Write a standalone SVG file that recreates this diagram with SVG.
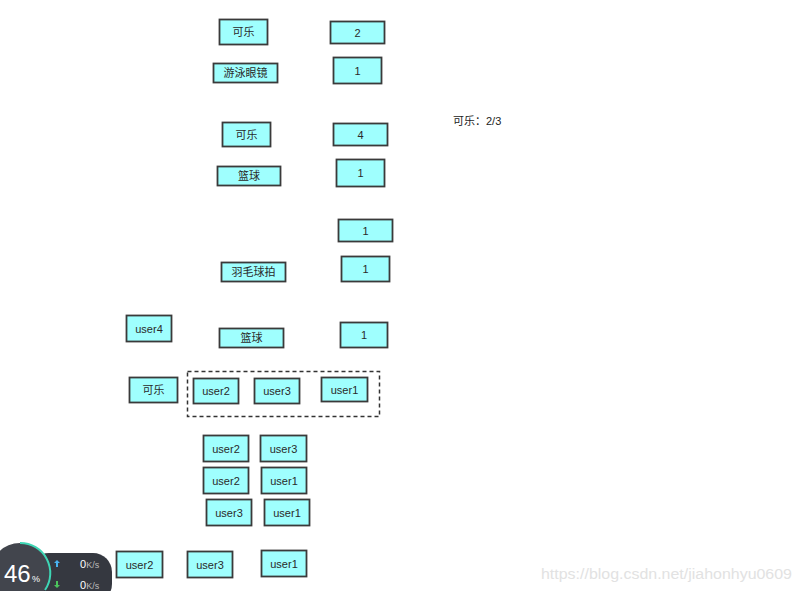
<svg xmlns="http://www.w3.org/2000/svg" width="801" height="591" viewBox="0 0 801 591">
<style>
.b rect{fill:#9ffffe;stroke:#3a3a3a;stroke-width:1.8}
.b text{font-family:"Liberation Sans","Noto Sans CJK SC",sans-serif;font-size:11px;fill:#2a2a2a;text-anchor:middle;dominant-baseline:central}
.t{font-family:"Liberation Sans","Noto Sans CJK SC",sans-serif;font-size:11px;fill:#222}
</style>
<rect width="801" height="591" fill="#fff"/>
<g class="b">
<g id="n_kele1"><rect x="219.5" y="19.5" width="48" height="25"/><text x="243.5" y="32">可乐</text></g>
<g id="n_v2"><rect x="330.5" y="21.5" width="54" height="22"/><text x="357.5" y="32.5">2</text></g>
<g id="n_youyong"><rect x="213.5" y="63.5" width="64" height="19"/><text x="245.5" y="73">游泳眼镜</text></g>
<g id="n_v1a"><rect x="333.5" y="57.5" width="48" height="26"/><text x="357.5" y="70.5">1</text></g>
<g id="n_kele2"><rect x="222.5" y="122.5" width="48" height="24"/><text x="246.5" y="134.5">可乐</text></g>
<g id="n_v4"><rect x="333.5" y="123.5" width="54" height="22"/><text x="360.5" y="134.5">4</text></g>
<g id="n_lanqiu1"><rect x="217.5" y="166.5" width="63" height="19"/><text x="249" y="176">篮球</text></g>
<g id="n_v1b"><rect x="336.5" y="159.5" width="48" height="27"/><text x="360.5" y="173">1</text></g>
<g id="n_v1c"><rect x="338.5" y="219.5" width="54" height="22"/><text x="365.5" y="230.5">1</text></g>
<g id="n_v1d"><rect x="341.5" y="256.5" width="48" height="25"/><text x="365.5" y="269">1</text></g>
<g id="n_yumao"><rect x="221.5" y="262.5" width="64" height="19"/><text x="253.5" y="272">羽毛球拍</text></g>
<g id="n_user4"><rect x="126.5" y="315.5" width="45" height="26"/><text x="149" y="328.5">user4</text></g>
<g id="n_lanqiu2"><rect x="219.5" y="328.5" width="64" height="19"/><text x="251.5" y="338">篮球</text></g>
<g id="n_v1e"><rect x="340.5" y="322.5" width="47" height="25"/><text x="364" y="335">1</text></g>
<g id="n_kele3"><rect x="129.5" y="377.5" width="48" height="25"/><text x="153.5" y="390">可乐</text></g>
<g id="n_u2a"><rect x="193.5" y="378.5" width="45" height="25"/><text x="216" y="391">user2</text></g>
<g id="n_u3a"><rect x="254.5" y="378.5" width="45" height="25"/><text x="277" y="391">user3</text></g>
<g id="n_u1a"><rect x="321.5" y="377.5" width="46" height="24"/><text x="344.5" y="389.5">user1</text></g>
<g id="n_u2b"><rect x="203.5" y="435.5" width="45" height="26"/><text x="226" y="448.5">user2</text></g>
<g id="n_u3b"><rect x="260.5" y="435.5" width="46" height="26"/><text x="283.5" y="448.5">user3</text></g>
<g id="n_u2c"><rect x="203.5" y="467.5" width="45" height="26"/><text x="226" y="480.5">user2</text></g>
<g id="n_u1b"><rect x="261.5" y="467.5" width="45" height="26"/><text x="284" y="480.5">user1</text></g>
<g id="n_u3c"><rect x="206.5" y="499.5" width="45" height="26"/><text x="229" y="512.5">user3</text></g>
<g id="n_u1c"><rect x="264.5" y="499.5" width="45" height="26"/><text x="287" y="512.5">user1</text></g>
<g id="n_u2d"><rect x="116.5" y="551.5" width="46" height="26"/><text x="139.5" y="564.5">user2</text></g>
<g id="n_u3d"><rect x="187.5" y="551.5" width="45" height="26"/><text x="210" y="564.5">user3</text></g>
<g id="n_u1d"><rect x="261.5" y="550.5" width="45" height="26"/><text x="284" y="563.5">user1</text></g>
</g>
<g id="connectors">
<rect x="187.5" y="371.5" width="192" height="45" fill="none" stroke="#333" stroke-width="1.5" stroke-dasharray="4,3"/>
</g>
<text class="t" x="453" y="125">可乐：2/3</text>
<text x="541" y="579" font-family="Liberation Sans,sans-serif" font-size="15.5" fill="#e2e2e2" textLength="251" lengthAdjust="spacingAndGlyphs">https://blog.csdn.net/jiahonhyu0609</text>
<g id="widget">
<rect x="30" y="553" width="82" height="50" rx="19" fill="#353840"/>
<circle cx="20" cy="573" r="30" fill="#42454d"/>
<path d="M 20 543 A 30 30 0 0 1 45 590" fill="none" stroke="#3ed6b5" stroke-width="2"/>
<text x="4" y="582" font-family="Liberation Sans,sans-serif" font-size="24" fill="#fff">46</text>
<text x="32" y="582" font-family="Liberation Sans,sans-serif" font-size="9" fill="#fff">%</text>
<path d="M57 560 l-3 3 h2 v4 h2 v-4 h2 z" fill="#49b3f0"/>
<path d="M57 588 l-3 -3 h2 v-4 h2 v4 h2 z" fill="#4cc45c"/>
<text x="80" y="568" font-family="Liberation Sans,sans-serif" font-size="11" fill="#fff">0<tspan font-size="9" fill="#bbb">K/s</tspan></text>
<text x="80" y="589" font-family="Liberation Sans,sans-serif" font-size="11" fill="#fff">0<tspan font-size="9" fill="#bbb">K/s</tspan></text>
</g>
</svg>
